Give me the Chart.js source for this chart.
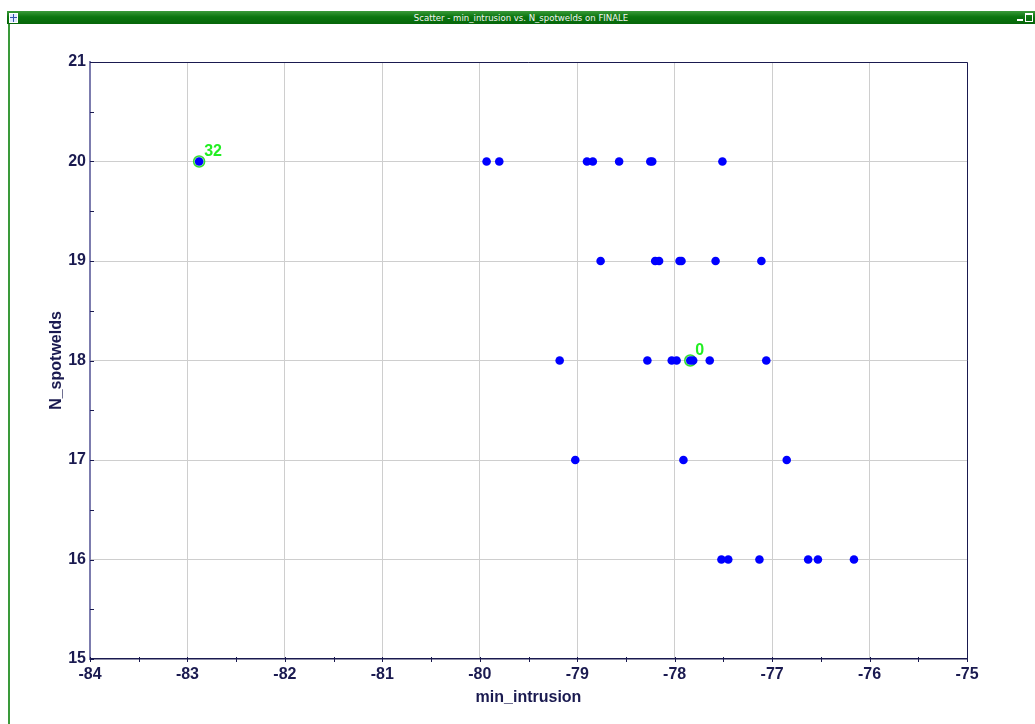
<!DOCTYPE html>
<html>
<head>
<meta charset="utf-8">
<script src="https://cdn.jsdelivr.net/npm/chart.js@4.4.1/dist/chart.umd.min.js"></script>
<style>
  html, body { margin: 0; padding: 0; background: #ffffff; }
  body { width: 1035px; height: 724px; position: relative; overflow: hidden; }
  #chart { position: absolute; left: 0; top: 0; }
  #titlebar {
    position: absolute; left: 7px; top: 11px; width: 1028px; height: 13px;
    background: linear-gradient(#3a9a3a, #0b760f 45%, #06660a);
    color: #f4f4f4; font: 9.5px "Liberation Sans Narrow", "DejaVu Sans Condensed", "Liberation Sans", sans-serif;
    line-height: 13px; text-align: center; letter-spacing: 0;
  }
  #sysicon {
    position: absolute; left: 2px; top: 2px; width: 7px; height: 8px;
    background: #dfe8ff; border: 1px solid #ffffff;
    background-image: linear-gradient(90deg, transparent 3px, #3355aa 3px, #3355aa 4px, transparent 4px),
                      linear-gradient(transparent 3px, #3355aa 3px, #3355aa 4px, transparent 4px);
  }
  #minbtn { position: absolute; right: 12px; top: 8px; width: 6px; height: 2px; background: #ffffff; }
  #restbtn { position: absolute; right: 2px; top: 2px; width: 6px; height: 6px; border: 1px solid #ffffff; border-top-width: 2px; }
  #leftedge { position: absolute; left: 8px; top: 24px; width: 2px; height: 700px; background: #3a9a3a; }
</style>
</head>
<body>
<canvas id="chart" width="1035" height="724"></canvas>
<div id="titlebar"><div id="sysicon"></div>Scatter - min_intrusion vs. N_spotwelds on FINALE<div id="minbtn"></div><div id="restbtn"></div></div>
<div id="leftedge"></div>
<script>
// Design points: min_intrusion (x) and N_spotwelds (y), indexed by design id
const minIntrusion = [
  -77.84, -79.93, -79.80, -78.90, -78.84, -78.57, -78.25, -78.23, -77.51,
  -78.76, -78.20, -78.16, -77.95, -77.93, -77.58, -77.11,
  -79.18, -78.28, -78.03, -77.98, -77.81, -77.64, -77.06,
  -79.02, -77.91, -76.85,
  -77.52, -77.45, -77.13, -76.63, -76.53, -76.16,
  -82.88
];
const nSpotwelds = [
  18, 20, 20, 20, 20, 20, 20, 20, 20,
  19, 19, 19, 19, 19, 19, 19,
  18, 18, 18, 18, 18, 18, 18,
  17, 17, 17,
  16, 16, 16, 16, 16, 16,
  20
];
// Designs that are selected and labelled with their id
const selectedIds = [0, 32];

const xRange = [-84, -75];
const yRange = [15, 21];

const navy = '#1a1a50';
const gridGray = '#cecece';
const labelFont = { family: 'Arial, "Liberation Sans", sans-serif', size: 16, weight: 'bold' };

const points = minIntrusion.map((x, i) => ({ x: x, y: nSpotwelds[i] }));
const selectedPoints = selectedIds.map(i => ({ x: minIntrusion[i], y: nSpotwelds[i], id: i }));

// Frame, minor ticks and id labels
const decorations = {
  id: 'decorations',
  afterDraw(chart) {
    const { ctx, chartArea: a, scales: { x, y } } = chart;
    ctx.save();
    // frame around the plot
    ctx.strokeStyle = navy;
    ctx.lineWidth = 1;
    ctx.beginPath();
    ctx.moveTo(a.left, a.top + 0.5);
    ctx.lineTo(a.right + 0.5, a.top + 0.5);
    ctx.lineTo(a.right + 0.5, a.bottom);
    ctx.stroke();
    // tick marks every half unit
    ctx.strokeStyle = navy;
    ctx.beginPath();
    for (let v = xRange[0]; v <= xRange[1] + 1e-9; v += 0.5) {
      const px = Math.round(x.getPixelForValue(v)) + 0.5;
      ctx.moveTo(px, a.bottom - 2);
      ctx.lineTo(px, a.bottom + 3);
    }
    for (let v = yRange[0]; v <= yRange[1] + 1e-9; v += 0.5) {
      const py = Math.round(y.getPixelForValue(v)) + 0.5;
      ctx.moveTo(a.left, py);
      ctx.lineTo(a.left + 4, py);
    }
    ctx.stroke();
    // id labels of the selected designs
    ctx.fillStyle = '#22ee22';
    ctx.font = 'bold 16px Arial, "Liberation Sans", sans-serif';
    ctx.textAlign = 'left';
    ctx.textBaseline = 'alphabetic';
    selectedPoints.forEach(p => {
      const px = x.getPixelForValue(p.x);
      const py = y.getPixelForValue(p.y);
      ctx.fillText(String(p.id), px + 5, py - 6);
    });
    ctx.restore();
  }
};

new Chart(document.getElementById('chart'), {
  type: 'scatter',
  data: {
    datasets: [
      {
        label: 'designs',
        data: points,
        order: 1,
        pointRadius: 4.3,
        pointHoverRadius: 4.3,
        pointBackgroundColor: '#0000ff',
        pointBorderWidth: 0
      },
      {
        label: 'selected',
        data: selectedPoints,
        order: 2,
        pointRadius: 5.5,
        pointHoverRadius: 5.5,
        pointBackgroundColor: 'rgba(170,255,170,0.6)',
        pointBorderColor: '#33dd33',
        pointBorderWidth: 1.5
      }
    ]
  },
  plugins: [decorations],
  options: {
    responsive: false,
    animation: false,
    events: [],
    layout: { padding: { left: 0, top: 62, right: 68, bottom: 0 } },
    plugins: { legend: { display: false }, tooltip: { enabled: false } },
    scales: {
      x: {
        type: 'linear',
        min: xRange[0],
        max: xRange[1],
        afterFit(scale) { scale.height = 65; },
        border: { color: navy, width: 1.5 },
        grid: {
          drawTicks: false,
          color: ctx => Number.isInteger(ctx.tick.value) && ctx.tick.value !== xRange[0] ? gridGray : 'rgba(0,0,0,0)'
        },
        ticks: {
          stepSize: 1,
          autoSkip: false,
          padding: 6,
          color: navy,
          font: labelFont,
          callback: v => String(v)
        },
        title: {
          display: true,
          text: 'min_intrusion',
          color: navy,
          font: labelFont,
          padding: { top: 0, bottom: 17 }
        }
      },
      y: {
        type: 'linear',
        min: yRange[0],
        max: yRange[1],
        afterFit(scale) { scale.width = 90; },
        border: { color: '#7c7cae', width: 2 },
        grid: {
          drawTicks: false,
          color: ctx => Number.isInteger(ctx.tick.value) && ctx.tick.value !== yRange[0] ? gridGray : 'rgba(0,0,0,0)'
        },
        ticks: {
          stepSize: 1,
          autoSkip: false,
          padding: 4,
          color: navy,
          font: labelFont,
          callback: v => String(v)
        },
        title: {
          display: true,
          text: 'N_spotwelds',
          color: navy,
          font: labelFont,
          padding: { top: 47, bottom: 0 }
        }
      }
    }
  }
});
</script>
</body>
</html>
